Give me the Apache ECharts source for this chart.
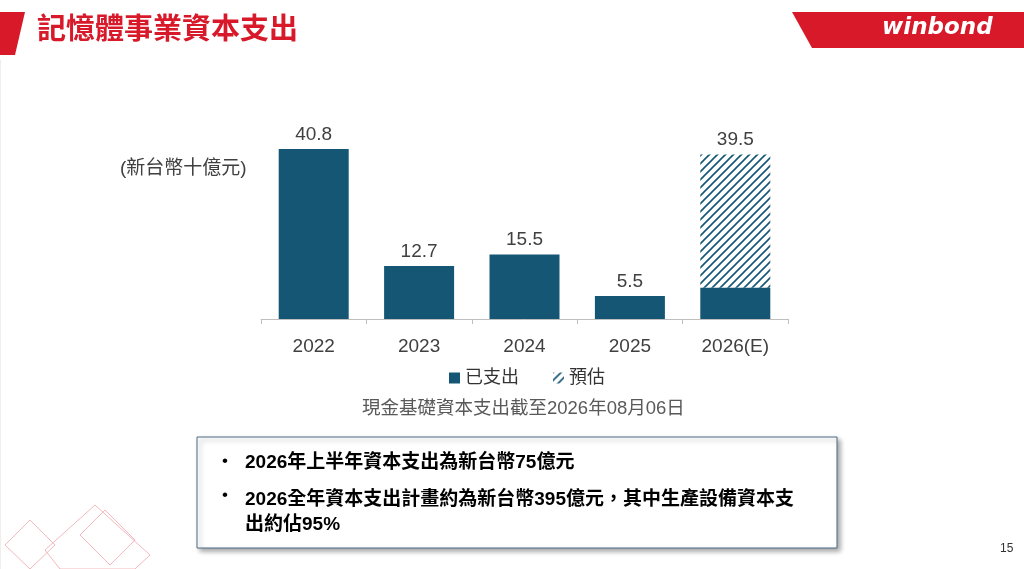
<!DOCTYPE html>
<html><head><meta charset="utf-8">
<script src="https://cdn.jsdelivr.net/npm/echarts@6/dist/echarts.min.js"></script>
<style>html,body{margin:0;background:#fff}#main{width:1024px;height:569px}</style>
</head><body><div id="main"></div>
<script>
var years = ['2022', '2023', '2024', '2025', '2026(E)'];
var spent = [40.8, 12.7, 15.5, 5.5, 7.5];
var estimate = [null, null, null, null, 32.0];
var totals = ['40.8', '12.7', '15.5', '5.5', '39.5'];

var blue = '#155675';
var font = '"Liberation Sans", "Noto Sans CJK TC", sans-serif';

// hatch pattern for the estimate part
var pc = document.createElement('canvas');
pc.width = 8; pc.height = 8;
var g = pc.getContext('2d');
g.strokeStyle = blue; g.lineWidth = 1.6;
g.beginPath();
g.moveTo(-2, 10); g.lineTo(10, -2);
g.moveTo(-2, 2); g.lineTo(2, -2);
g.moveTo(6, 10); g.lineTo(10, 6);
g.stroke();

var myChart = echarts.init(document.getElementById('main'));
option = {
    textStyle: { fontFamily: font },
    grid: { left: 261, right: 236, top: 144, bottom: 250 },
    legend: {
        top: 364, left: 444,
        itemWidth: 11, itemHeight: 11, itemGap: 34,
        textStyle: { fontSize: 18, color: '#333', fontFamily: font },
        data: [{ name: '已支出', icon: 'rect' }, { name: '預估', icon: 'rect' }]
    },
    xAxis: {
        type: 'category', data: years,
        axisLine: { lineStyle: { color: '#bfbfbf' } },
        axisTick: { show: true, lineStyle: { color: '#bfbfbf' } },
        axisLabel: { fontSize: 19, color: '#404040', margin: 18 }
    },
    yAxis: { type: 'value', min: 0, max: 42, show: false, splitLine: { show: false } },
    series: [
        { name: '已支出', type: 'bar', stack: 'a', barWidth: 70, data: spent,
          itemStyle: { color: blue },
          label: { show: true, position: 'top', fontSize: 19, color: '#404040',
                   formatter: function (p) { return p.dataIndex < 4 ? totals[p.dataIndex] : ''; } } },
        { name: '預估', type: 'bar', stack: 'a', barWidth: 70, data: estimate,
          itemStyle: { color: { image: pc, repeat: 'repeat' } },
          label: { show: true, position: 'top', fontSize: 19, color: '#404040',
                   formatter: function (p) { return totals[p.dataIndex]; } } }
    ],
    graphic: [
        { type: 'polygon', shape: { points: [[0, 12], [25, 12], [15, 55], [0, 55]] }, style: { fill: '#d7192a' } },
        { type: 'text', left: 37, top: 16, style: { text: '記憶體事業資本支出', fontSize: 29, fontWeight: 'bold', fill: '#d7192a', fontFamily: font } },
        { type: 'polygon', shape: { points: [[792, 12], [1024, 12], [1024, 48], [812, 48]] }, style: { fill: '#d7192a' } },
        { type: 'text', left: 882, top: 17, style: { text: 'winbond', fontSize: 23, fontWeight: 'bold', fontStyle: 'italic', fill: '#fff', fontFamily: 'DejaVu Sans' } },
        { type: 'line', shape: { x1: 0, y1: 60, x2: 0, y2: 569 }, style: { stroke: '#ddd' } },
        { type: 'text', left: 120, top: 159, style: { text: '(新台幣十億元)', fontSize: 19, fill: '#404040', fontFamily: font } },
        { type: 'text', left: 362, top: 400, style: { text: '現金基礎資本支出截至2026年08月06日', fontSize: 18.5, fill: '#595959', fontFamily: font } },
        { type: 'rect', shape: { x: 197, y: 437, width: 640, height: 111 },
          style: { fill: '#fff', stroke: '#4a6a85', lineWidth: 1, shadowBlur: 5, shadowOffsetX: 3, shadowOffsetY: 3, shadowColor: 'rgba(0,0,0,0.35)' } },
        { type: 'text', left: 222, top: 453, style: { text: '•', fontSize: 17, fill: '#000' } },
        { type: 'text', left: 245, top: 453, style: { text: '2026年上半年資本支出為新台幣75億元', fontSize: 19, fontWeight: 'bold', fill: '#000', fontFamily: font } },
        { type: 'text', left: 222, top: 487, style: { text: '•', fontSize: 17, fill: '#000' } },
        { type: 'text', left: 245, top: 487, style: { text: '2026全年資本支出計畫約為新台幣395億元，其中生產設備資本支\n出約佔95%', fontSize: 19, fontWeight: 'bold', lineHeight: 25, fill: '#000', fontFamily: font } },
        { type: 'text', left: 1000, top: 543, style: { text: '15', fontSize: 12, fill: '#333', fontFamily: font } },
        { type: 'polygon', shape: { points: [[5, 545], [30, 520], [55, 545], [30, 569]] }, style: { fill: 'none', stroke: '#f2b8bd', lineWidth: 1 } },
        { type: 'polygon', shape: { points: [[45, 550], [95, 505], [150, 555], [135, 569], [60, 569]] }, style: { fill: 'none', stroke: '#f2b8bd', lineWidth: 1 } },
        { type: 'polygon', shape: { points: [[80, 535], [105, 510], [135, 540], [110, 565]] }, style: { fill: 'none', stroke: '#f2b8bd', lineWidth: 1 } }
    ]
};
myChart.setOption(option);
</script></body></html>
